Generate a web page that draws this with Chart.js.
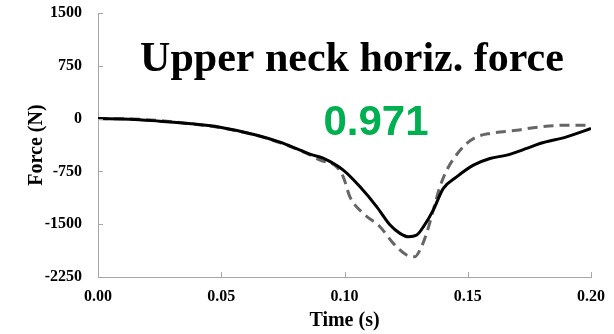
<!DOCTYPE html>
<html>
<head>
<meta charset="utf-8">
<script src="https://cdn.jsdelivr.net/npm/chart.js@4"></script>
<style>
  html, body { margin: 0; padding: 0; background: #ffffff; }
  #c { display: block; }
</style>
</head>
<body>
<canvas id="c" width="614" height="334"></canvas>
<script>
// ---- data ----
const solidTime  = [0, 0.013, 0.025, 0.037, 0.0495, 0.0645, 0.0738, 0.082, 0.0873, 0.0913, 0.0995, 0.1063, 0.1131, 0.1185, 0.1225, 0.1259, 0.1293, 0.132, 0.136, 0.1401, 0.1455, 0.1523, 0.159, 0.1658, 0.1739, 0.1793, 0.1901, 0.2];
const solidForce = [0, -8, -37, -70, -122, -236, -335, -448, -519, -562, -732, -969, -1253, -1512, -1630, -1678, -1654, -1537, -1300, -992, -827, -661, -566, -519, -424, -353, -260, -140];
const dashTime   = [0, 0.013, 0.025, 0.037, 0.05, 0.065, 0.074, 0.0847, 0.0901, 0.0968, 0.0995, 0.1022, 0.1076, 0.1144, 0.1198, 0.1252, 0.1286, 0.1306, 0.1333, 0.136, 0.1387, 0.1415, 0.1448, 0.1496, 0.1536, 0.159, 0.1699, 0.1793, 0.1901, 0.2];
const dashForce  = [0, -5, -28, -72, -130, -245, -345, -495, -590, -685, -827, -1111, -1346, -1537, -1772, -1938, -1962, -1867, -1630, -1300, -969, -732, -543, -353, -260, -211, -165, -118, -94, -94];
const xTicks = [0, 0.05, 0.10, 0.15, 0.20];
const yTicks = [-2250, -1500, -750, 0, 750, 1500];
const chartTitle = 'Upper neck horiz. force';
const scoreText = '0.971';
const xTitle = 'Time (s)';
const yTitle = 'Force (N)';

const toPts = (xs, ys) => xs.map((x, i) => ({ x: x, y: ys[i] }));
const axisGray = '#a6a6a6';
const serif = '"Liberation Serif", "Times New Roman", serif';

const innerTicks = {
  id: 'innerTicks',
  afterDatasetsDraw(chart) {
    const ctx = chart.ctx;
    const xs = chart.scales.x, ys = chart.scales.y;
    ctx.save();
    ctx.strokeStyle = axisGray;
    ctx.lineWidth = 1;
    ctx.beginPath();
    xTicks.forEach(v => {
      const px = Math.round(xs.getPixelForValue(v)) + 0.5;
      ctx.moveTo(px, ys.bottom);
      ctx.lineTo(px, ys.bottom - 5);
    });
    yTicks.forEach(v => {
      const py = Math.round(ys.getPixelForValue(v)) + 0.5;
      ctx.moveTo(xs.left, py);
      ctx.lineTo(xs.left + 5, py);
    });
    ctx.stroke();
    ctx.restore();
  },
  afterDraw(chart) {
    const ctx = chart.ctx;
    ctx.save();
    ctx.textBaseline = 'alphabetic';
    ctx.textAlign = 'center';
    ctx.fillStyle = '#000000';
    ctx.font = 'bold 42px ' + serif;
    ctx.fillText(chartTitle, 352, 70.5);
    ctx.fillStyle = '#00b050';
    ctx.font = 'bold 42px "Liberation Sans", Arial, sans-serif';
    ctx.fillText(scoreText, 376, 135);
    ctx.restore();
  }
};

new Chart(document.getElementById('c'), {
  type: 'line',
  data: {
    datasets: [
      {
        label: 'Simulation',
        data: toPts(dashTime, dashForce),
        borderColor: '#666666',
        borderWidth: 3,
        borderDash: [10, 6],
        pointRadius: 0,
        fill: false,
        cubicInterpolationMode: 'monotone',
        order: 2
      },
      {
        label: 'Test',
        data: toPts(solidTime, solidForce),
        borderColor: '#000000',
        borderWidth: 3,
        pointRadius: 0,
        fill: false,
        cubicInterpolationMode: 'monotone',
        order: 1
      }
    ]
  },
  options: {
    responsive: false,
    animation: false,
    events: [],
    layout: { padding: { top: 13, right: 23, bottom: 0, left: 0 } },
    plugins: { legend: { display: false }, tooltip: { enabled: false }, title: { display: false } },
    scales: {
      x: {
        type: 'linear',
        min: 0, max: 0.2,
        afterBuildTicks: s => { s.ticks = xTicks.map(v => ({ value: v })); },
        afterFit: s => { s.height = 57; s.paddingLeft = 0; s.paddingRight = 0; },
        grid: { drawOnChartArea: false, drawTicks: false },
        border: { display: true, color: axisGray, width: 1 },
        ticks: {
          padding: 10,
          color: '#000000',
          font: { family: serif, size: 16, weight: 'bold' },
          callback: v => Number(v).toFixed(2),
          maxRotation: 0
        },
        title: {
          display: true,
          text: xTitle,
          color: '#000000',
          font: { family: serif, size: 20, weight: 'bold' },
          padding: { top: 4, bottom: 1 }
        }
      },
      y: {
        type: 'linear',
        min: -2250, max: 1500,
        afterBuildTicks: s => { s.ticks = yTicks.map(v => ({ value: v })); },
        afterFit: s => { s.width = 98; s.paddingTop = 0; s.paddingBottom = 0; },
        grid: { drawOnChartArea: false, drawTicks: false },
        border: { display: true, color: axisGray, width: 1 },
        ticks: {
          padding: 16,
          color: '#000000',
          font: { family: serif, size: 16, weight: 'bold' },
          callback: v => String(v)
        },
        title: {
          display: true,
          text: yTitle,
          color: '#000000',
          font: { family: serif, size: 20, weight: 'bold' },
          padding: { top: 25, bottom: 0 }
        }
      }
    }
  },
  plugins: [innerTicks]
});
</script>
</body>
</html>
